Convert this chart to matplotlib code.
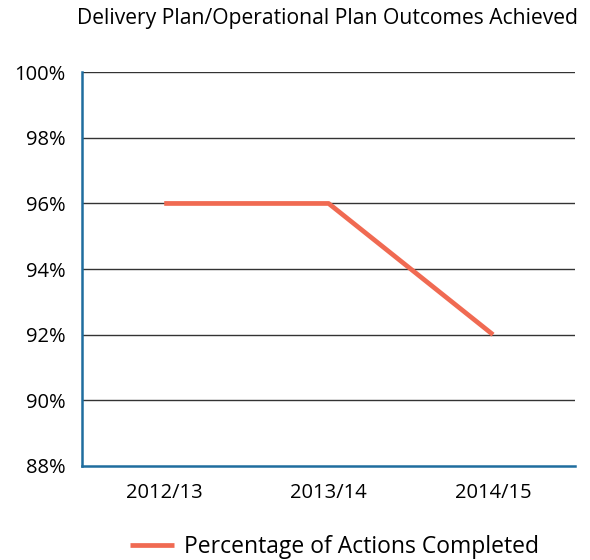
import matplotlib.pyplot as plt
import matplotlib.ticker as mticker

plt.rcParams['font.family'] = ['Open Sans', 'DejaVu Sans']

years = ['2012/13', '2013/14', '2014/15']
completed = [96, 96, 92]
yticks = [88, 90, 92, 94, 96, 98, 100]

fig = plt.figure(figsize=(5.9, 5.6), dpi=100)
ax = fig.add_axes([0.139, 0.168, 0.836, 0.703])

for t in yticks[1:]:
    ax.axhline(t, color='#333333', lw=1.0, zorder=1)

ax.plot(range(len(years)), completed, color='#f06a52', lw=3.4,
        solid_capstyle='butt', label='Percentage of Actions Completed', zorder=3)

ax.set_xlim(-0.5, 2.5)
ax.set_ylim(88, 100)
ax.set_xticks(range(len(years)))
ax.set_xticklabels(years)
ax.set_yticks(yticks)
ax.yaxis.set_major_formatter(mticker.FuncFormatter(lambda v, p: f'{v:.0f}%'))
ax.tick_params(length=0, labelsize=14.5, colors='black')
ax.tick_params(axis='x', pad=12)
ax.tick_params(axis='y', pad=12)

for s in ['top', 'right']:
    ax.spines[s].set_visible(False)
for s in ['left', 'bottom']:
    ax.spines[s].set_color('#1f6d9e')
    ax.spines[s].set_linewidth(1.8)

fig.text(0.555, 0.967, 'Delivery Plan/Operational Plan Outcomes Achieved',
         ha='center', va='center', fontsize=15.2)

fig.legend(loc='center', bbox_to_anchor=(0.567, 0.023), frameon=False,
           fontsize=16.5, handlelength=1.9, handletextpad=0.45)

fig.savefig('out.png')
